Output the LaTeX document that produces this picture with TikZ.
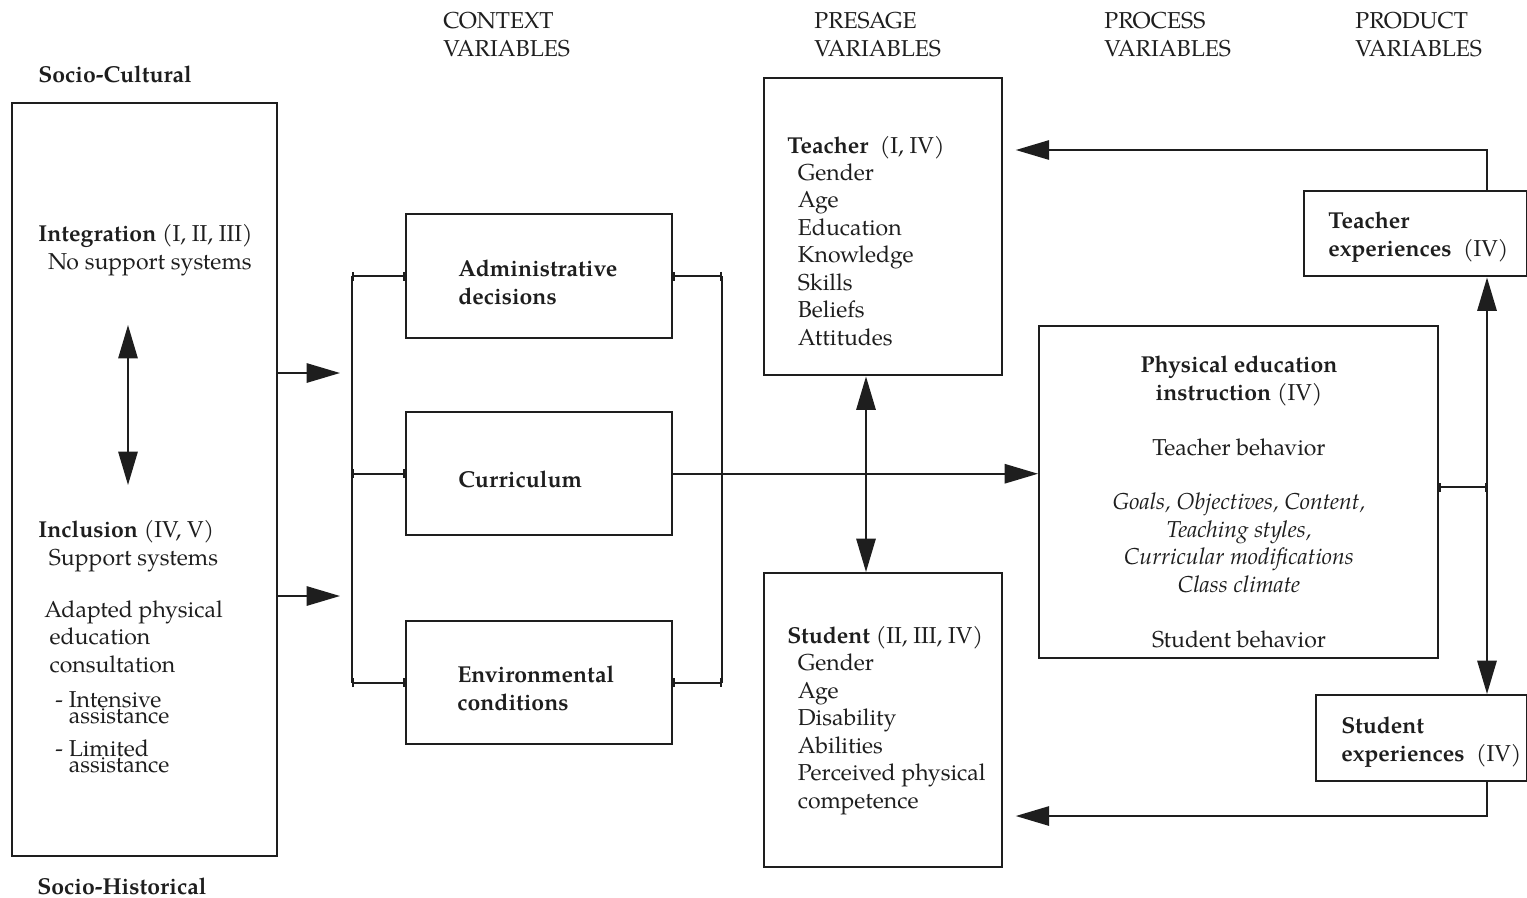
\documentclass[tikz,border=0pt]{standalone}
\usepackage{fontspec}
\setmainfont{TeX Gyre Pagella}
\usetikzlibrary{arrows.meta}
\definecolor{ink}{HTML}{1E1E1E}
\tikzset{
  box/.style 2 args={draw=ink, line width=1.4pt, minimum width=#1*0.02cm, minimum height=#2*0.02cm, anchor=north west, inner sep=0pt},
  txt/.style={anchor=base west, align=left, inner sep=0pt, text=ink},
  conn/.style={draw=ink, line width=1.1pt},
  arr/.style={conn, -{Triangle[length=19pt,width=11pt]}},
  dbl/.style={conn, {Triangle[length=19pt,width=11pt]}-{Triangle[length=19pt,width=11pt]}},
  link/.style={conn, {Bar[width=5pt]}-{Bar[width=5pt]}}
}
\begin{document}
\begin{tikzpicture}[x=0.02cm, y=-0.02cm, font=\fontsize{13.1}{15.6}\selectfont]
  \useasboundingbox (0,0) rectangle (1527,897);
  % headings (placed by the baseline of their last line)
  \node[txt] (context) at (443,56) {CONTEXT\\VARIABLES};
  \node[txt] (presage) at (814,56) {PRESAGE\\VARIABLES};
  \node[txt] (process) at (1104,56) {PROCESS\\VARIABLES};
  \node[txt] (product) at (1355,56) {PRODUCT\\VARIABLES};
  \node[txt] (cultural) at (38,82) {\textbf{Socio-Cultural}};
  \node[txt] (historical) at (37,894) {\textbf{Socio-Historical}};
  % boxes
  \node[box={265}{753}] (socio) at (11,102) {};
  \node[box={266}{124}] (admin) at (405,213) {};
  \node[box={266}{123}] (curric) at (405,411) {};
  \node[box={266}{123}] (environ) at (405,620) {};
  \node[box={238}{297}] (teacher) at (763,77) {};
  \node[box={238}{294}] (student) at (763,572) {};
  \node[box={399}{332}] (instr) at (1038,325) {};
  \node[box={223}{85}] (texp) at (1303,190) {};
  \node[box={211}{86}] (sexp) at (1315,694) {};
  % box texts
  \node[txt] (integ) at (38,269) {\textbf{Integration} (I, II, III)\\\hspace*{5.5pt}No support systems};
  \node[txt] (incl) at (38,565) {\textbf{Inclusion} (IV, V)\\\hspace*{6pt}Support systems};
  \node[txt] (apec) at (44,672) {Adapted physical\\\hspace*{3pt}education\\\hspace*{3pt}consultation};
  \node[txt] (intens) at (55,723) {- Intensive\\[-6.5pt]\phantom{- }assistance};
  \node[txt] (limited) at (55,772) {- Limited\\[-6.5pt]\phantom{- }assistance};
  \node[txt] (adminl) at (458,304) {\textbf{Administrative}\\\textbf{decisions}};
  \node[txt] (curricl) at (458,487) {\textbf{Curriculum}};
  \node[txt] (environl) at (457,710) {\textbf{Environmental}\\\textbf{conditions}};
  \node[txt] (teacherl) at (787,345) {\textbf{Teacher}\ \ (I, IV)\\\hspace*{6pt}Gender\\\hspace*{6pt}Age\\\hspace*{6pt}Education\\\hspace*{6pt}Knowledge\\\hspace*{6pt}Skills\\\hspace*{6pt}Beliefs\\\hspace*{6pt}Attitudes};
  \node[txt] (studentl) at (787,808) {\textbf{Student} (II, III, IV)\\\hspace*{6pt}Gender\\\hspace*{6pt}Age\\\hspace*{6pt}Disability\\\hspace*{6pt}Abilities\\\hspace*{6pt}Perceived physical\\\hspace*{6pt}competence};
  \node[txt, anchor=base, align=center] (instrl) at (1239,647) {\textbf{Physical education}\\\textbf{instruction} (IV)\\[15.6pt]Teacher behavior\\[15.6pt]\textit{Goals, Objectives, Content,}\\\textit{Teaching styles,}\\\textit{Curricular modifications}\\\textit{Class climate}\\[15.6pt]Student behavior};
  \node[txt] (texpl) at (1328,256) {\textbf{Teacher}\\\textbf{experiences}\ \ (IV)};
  \node[txt] (sexpl) at (1341,761) {\textbf{Student}\\\textbf{experiences}\ \ (IV)};
  % connectors
  \coordinate (up) at (128,325);
  \coordinate (down) at (128,485);
  \draw[dbl] (up) -- (down);
  \coordinate (in1) at (340,373);
  \coordinate (in2) at (340,596);
  \draw[arr] (socio.east |- in1) -- (in1);
  \draw[arr] (socio.east |- in2) -- (in2);
  \coordinate (lb) at (352,0);
  \draw[conn] (admin.west -| lb) -- (environ.west -| lb);
  \draw[link] (admin.west -| lb) -- (admin.west);
  \draw[link] (curric.west -| lb) -- (curric.west);
  \draw[link] (environ.west -| lb) -- (environ.west);
  \coordinate (rb) at (722,0);
  \draw[conn] (admin.east -| rb) -- (environ.east -| rb);
  \draw[link] (admin.east) -- (admin.east -| rb);
  \draw[link] (environ.east) -- (environ.east -| rb);
  \draw[arr] (curric.east) -- (curric.east -| instr.west);
  \coordinate (tsx) at (866,0);
  \draw[dbl] (teacher.south -| tsx) -- (student.north -| tsx);
  \coordinate (rx) at (1487,0);
  \draw[link] ([yshift=2.8pt]instr.east) -- ([yshift=2.8pt]instr.east -| rx);
  \draw[dbl] (texp.south -| rx) -- (sexp.north -| rx);
  \coordinate (ret1) at (0,150);
  \coordinate (ret2) at (0,816);
  \draw[arr, shorten >=7pt] (texp.north -| rx) |- (teacher.east |- ret1);
  \draw[arr, shorten >=7pt] (sexp.south -| rx) |- (student.east |- ret2);
\end{tikzpicture}
\end{document}
